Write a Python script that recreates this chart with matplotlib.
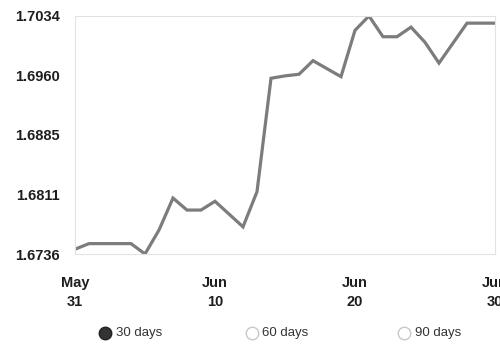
import matplotlib
matplotlib.use("Agg")
import matplotlib.pyplot as plt
from matplotlib.lines import Line2D

days = list(range(31))
values = [1.6742, 1.6749, 1.6749, 1.6749, 1.6749, 1.6736, 1.6766, 1.6806,
          1.6791, 1.6791, 1.6802, 1.6786, 1.6770, 1.6814, 1.6956, 1.6959,
          1.6961, 1.6978, 1.6968, 1.6958, 1.7016, 1.7034, 1.7008, 1.7008,
          1.7020, 1.7001, 1.6975, 1.7000, 1.7025, 1.7025, 1.7025]
x_tick_pos = [0, 10, 20, 30]
x_tick_labels = ["May\n31", "Jun\n10", "Jun\n20", "Jun\n30"]
y_ticks = [1.6736, 1.6811, 1.6885, 1.6960, 1.7034]
y_tick_labels = ["1.6736", "1.6811", "1.6885", "1.6960", "1.7034"]
legend_labels = ["30 days", "60 days", "90 days"]

plt.rcParams['font.family'] = ['Liberation Sans', 'DejaVu Sans']

fig = plt.figure(figsize=(5.0, 3.47), dpi=100)
fig.patch.set_facecolor('white')
ax = fig.add_axes([0.15, 0.268, 0.84, 0.686])

ax.plot(days, values, color='#7c7c7c', linewidth=2.3, solid_joinstyle='miter')
ax.set_xlim(0, 30)
ax.set_ylim(1.6736, 1.7034)

for s in ax.spines.values():
    s.set_color('#e2e2e2')
    s.set_linewidth(0.8)

ax.set_yticks(y_ticks)
ax.set_yticklabels(y_tick_labels, fontsize=10.5, fontweight='bold', color='#1e1e1e')
ax.set_xticks(x_tick_pos)
ax.set_xticklabels(x_tick_labels, fontsize=10.5, fontweight='bold', color='#1e1e1e',
                   linespacing=1.45)
ax.tick_params(axis='y', length=0, pad=11)
ax.tick_params(axis='x', length=0, pad=16)

# radio-style legend
leg_x = [0.21, 0.503, 0.808]
leg_y = 1 - 333 / 347
for i, (lx, lab) in enumerate(zip(leg_x, legend_labels)):
    if i == 0:
        fig.add_artist(Line2D([lx], [leg_y], marker='o', markersize=9,
                              markerfacecolor='#333333', markeredgecolor='#222222',
                              transform=fig.transFigure))
    else:
        fig.add_artist(Line2D([lx], [leg_y], marker='o', markersize=9,
                              markerfacecolor='white', markeredgecolor='#c8c8c8',
                              markeredgewidth=1.0, transform=fig.transFigure))
    fig.text(lx + 0.022, leg_y, lab, fontsize=9.5, color='#333333',
             va='center', ha='left')

fig.savefig("out.png", dpi=100, facecolor='white')
